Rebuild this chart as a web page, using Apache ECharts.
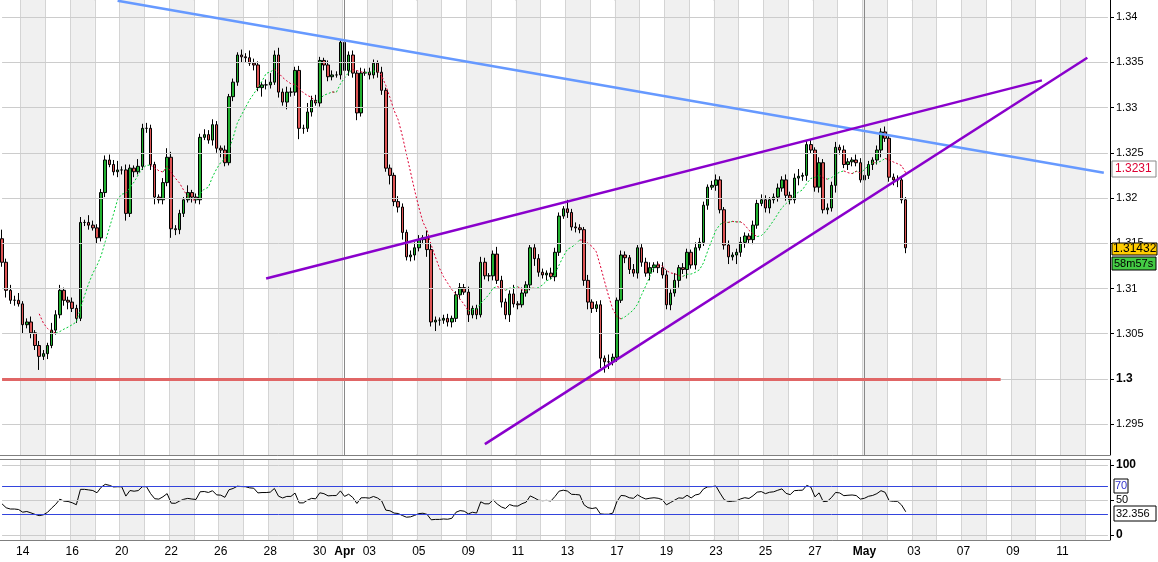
<!DOCTYPE html>
<html><head><meta charset="utf-8">
<script src="https://cdn.jsdelivr.net/npm/echarts@6/dist/echarts.min.js"></script>
<style>html,body{margin:0;padding:0;background:#fff}#c{width:1158px;height:562px}</style>
</head><body><div id="c"></div>
<script>
// trading days shown on the axis (6 four-hour bars each; 5 bars of Mar 13 before)
const days = ['14','15','16','19','20','21','22','23','26','27','28','29','30','Apr','03','04','05','06','09','10','11','12','13','16','17','18','19','20','23','24','25','26','27','30','May','02','03','04','07','08','09','10','11','14'];
const firstOpen = 1.3155;
const closes = [1.3129,1.3098,1.3087,1.3087,1.3083,1.3060,1.3063,1.3051,1.3037,1.3025,
1.3028,1.3037,1.3054,1.3071,1.3098,1.3087,1.3085,1.3078,1.3067,1.3173,
1.3173,1.3170,1.3167,1.3156,1.3206,1.3242,1.3237,1.3229,1.3231,1.3231,
1.3183,1.3233,1.3229,1.3235,1.3277,1.3277,1.3237,1.3201,1.3198,1.3217,
1.3245,1.3166,1.3165,1.3183,1.3198,1.3206,1.3201,1.3198,1.3267,1.3270,
1.3264,1.3281,1.3255,1.3253,1.3239,1.3312,1.3328,1.3358,1.3356,1.3355,
1.3349,1.3347,1.3322,1.3325,1.3325,1.3328,1.3358,1.3317,1.3306,1.3317,
1.3317,1.3341,1.3277,1.3277,1.3295,1.3308,1.3305,1.3352,1.3347,1.3334,
1.3336,1.3336,1.3372,1.3341,1.3358,1.3338,1.3294,1.3338,1.3339,1.3336,
1.3349,1.3339,1.3319,1.3233,1.3225,1.3196,1.3190,1.3162,1.3135,1.3137,
1.3145,1.3154,1.3156,1.3143,1.3063,1.3065,1.3065,1.3067,1.3063,1.3067,
1.3093,1.3101,1.3096,1.3071,1.3078,1.3071,1.3129,1.3114,1.3114,1.3138,
1.3109,1.3085,1.3071,1.3094,1.3083,1.3082,1.3095,1.3104,1.3145,1.3133,
1.3118,1.3115,1.3117,1.3113,1.3140,1.3180,1.3188,1.3184,1.3168,1.3167,
1.3165,1.3109,1.3085,1.3078,1.3082,1.3023,1.3019,1.3019,1.3024,1.3087,
1.3137,1.3134,1.3121,1.3117,1.3145,1.3129,1.3117,1.3123,1.3126,1.3123,
1.3115,1.3082,1.3095,1.3109,1.3123,1.3121,1.3140,1.3126,1.3145,1.3151,
1.3192,1.3212,1.3214,1.3220,1.3187,1.3148,1.3135,1.3137,1.3140,1.3151,
1.3158,1.3154,1.3170,1.3194,1.3198,1.3189,1.3198,1.3201,1.3211,1.3220,
1.3203,1.3198,1.3222,1.3224,1.3225,1.3259,1.3253,1.3212,1.3239,1.3187,
1.3189,1.3214,1.3256,1.3253,1.3237,1.3240,1.3242,1.3239,1.3220,1.3225,
1.3237,1.3242,1.3253,1.3273,1.3266,1.3223,1.3220,1.3220,1.3198,1.3145];
// upper / lower wick length in pips
const upWick = [10,4,6,5,8,3,4,6,3,5, 4,3,8,5,6,3,4,5,4,6, 3,8,5,4,4,5,6,5,10,4, 6,4,3,8,5,6,4,3,3,5,
10,6,4,4,3,8,3,4,4,6, 5,6,4,3,5,3,4,3,6,4, 8,5,4,3,6,10,5,8,4,6, 5,4,5,4,10,5,6,4,3,5,
5,4,3,5,4,5,3,6,4,5, 4,3,6,3,4,3,6,4,3,5, 6,5,3,8,6,4,3,4,5,3, 4,5,4,6,3,4,6,5,3,4,
8,5,4,4,10,3,6,4,3,4, 5,4,3,6,5,4,3,10,4,5, 4,3,6,3,4,5,3,8,4,3, 5,4,3,6,3,4,5,6,3,4,
6,5,4,8,3,5,4,3,6,5, 4,3,5,6,4,3,5,3,4,6, 4,3,5,4,6,5,3,4,5,4, 6,4,5,8,3,4,5,3,6,4,
5,4,6,3,5,4,3,6,5,3, 4,3,5,4,6,3,4,5,4,3];
const downWick = [5,8,4,6,3,10,4,6,5,15, 4,6,3,5,4,6,8,4,5,3, 4,5,3,6,4,5,3,4,6,5,
8,4,6,3,4,5,6,8,4,5, 4,10,6,5,4,3,6,4,5,3, 4,6,5,8,4,3,5,4,6,5, 3,6,4,10,5,4,3,6,4,8,
5,4,12,6,4,5,3,4,6,5, 4,3,5,4,6,5,8,4,3,5, 4,6,5,4,10,5,6,8,4,5, 6,4,5,8,5,10,6,4,5,6,
4,5,3,8,4,5,3,4,6,5, 4,6,5,8,4,5,3,4,6,8, 5,4,6,3,5,4,3,6,4,5, 4,6,8,5,4,11,12,8,4,5,
3,6,5,4,6,5,4,8,5,6, 4,5,6,4,8,5,10,4,5,3, 4,5,3,6,4,5,8,4,10,5, 6,4,5,4,3,5,6,4,5,4,
6,5,4,8,5,6,4,5,6,4, 5,4,8,5,4,6,5,4,3,5, 4,6,5,8,4,5,6,8,4,6];
// chart annotations: [bar index, price]
const blueLine = [[28,1.3418],[267.3,1.3228]];
const purpleUpper = [[64.4,1.3111],[251.5,1.3330]];
const purpleLower = [[117,1.2928],[263.2,1.3355]];
const supportLine = [[0,1.3000],[242,1.3000]];
const priceTicks = [1.295,1.3,1.305,1.31,1.315,1.32,1.325,1.33,1.335,1.34];
const rsiTicks = [0,50,100];
const rsiBands = [70,30];
const rsiGuides = [0,50,100];

const nCat = 5 + days.length*6;
const cats = []; for (let i=0;i<nCat;i++) cats.push('b'+i);
const dayIdx = i => (i>=5 && (i-5)%6===0) ? (i-5)/6 : -1;
const dayLabel = i => { const d=dayIdx(i); return d<0?'':days[d]; };
const showLabel = i => { const d=dayIdx(i); return d>=0 && (d%2===0 || days[d]==='Apr' || days[d]==='May'); };
const opens = [firstOpen].concat(closes.slice(0,-1));
const ohlc = closes.map((c,i)=>{const o=opens[i];const hi=Math.max(o,c)+(upWick[i]??4)/10000;const lo=Math.min(o,c)-(downWick[i]??4)/10000;return [o,c,+lo.toFixed(5),+hi.toFixed(5)];});
// moving average (10) split into rising / falling parts
const P=10, ma=closes.map((c,i)=>{if(i<P-1)return null;let s=0;for(let j=i-P+1;j<=i;j++)s+=closes[j];return s/P;});
const maUp=ma.map(()=>null), maDn=ma.map(()=>null);
for(let i=1;i<ma.length;i++){if(ma[i]==null||ma[i-1]==null)continue;const t=ma[i]>=ma[i-1]?maUp:maDn;t[i]=ma[i];t[i-1]=ma[i-1];}
// RSI(14), Wilder smoothing (seeded with a neutral prior)
const rsi=closes.map(()=>null);{const N=14;let g=0.0008,l=0.0008;const ch=closes.map((c,i)=>c-(i?closes[i-1]:firstOpen));
for(let i=0;i<ch.length;i++){const up=Math.max(ch[i],0),dn=Math.max(-ch[i],0);g=(g*(N-1)+up)/N;l=(l*(N-1)+dn)/N;rsi[i]=100-100/(1+g/(l||1e-9));}}

const dayTick = i => i>=5 && (i-5)%6===0;
const xBase = (gi, showLabels) => ({type:'category',gridIndex:gi,data:cats,boundaryGap:true,
  axisLine:{show:false},axisTick:{show:false,interval:(i)=>dayTick(i)},
  axisLabel:{show:showLabels,interval:(i)=>showLabel(i),color:'#000',fontSize:12,fontFamily:'Arial, Liberation Sans',margin:6,hideOverlap:false,
    formatter:(v,i)=>{const d=dayLabel(i);return (d==='Apr'||d==='May')?'{m|'+d+'}':d;},
    rich:{m:{fontWeight:'bold',fontSize:12,color:'#000'}}},
  splitLine:{show:true,interval:(i)=>dayTick(i),lineStyle:{color:'#d4d4d4',width:1}},
  splitArea:{show:true,interval:(i)=>dayTick(i),areaStyle:{color:['#ffffff','#f0f0f0']}}});

const segLine = (pts,color,w,xi,yi)=>({type:'line',xAxisIndex:xi||0,yAxisIndex:yi||0,data:[],silent:true,z:3,
  markLine:{symbol:'none',silent:true,label:{show:false},lineStyle:{color,width:w,type:'solid',opacity:1},
  data:[[{coord:[pts[0][0],pts[0][1]]},{coord:[pts[1][0],pts[1][1]]}]]}});
const hLine = (v,color,xi,yi,w)=>segLine([[0,v],[nCat-1,v]],color,w||1,xi,yi);
const monthLine = (idx)=>({type:'line',xAxisIndex:0,yAxisIndex:0,data:[],silent:true,
  markLine:{symbol:'none',silent:true,label:{show:false},lineStyle:{color:'#888',width:1,type:'solid'},data:[{xAxis:idx}]}});

const series = [];
priceTicks.forEach(v=>series.push(hLine(v,'#cccccc',0,0,1)));
rsiGuides.forEach(v=>series.push(hLine(v,'#cccccc',1,1,1)));
series.push(monthLine(5+13*6), monthLine(5+34*6));
series.push({type:'candlestick',xAxisIndex:0,yAxisIndex:0,data:ohlc,barWidth:3,
   itemStyle:{color:'#22b030',color0:'#dd5555',borderColor:'#000',borderColor0:'#000',borderWidth:1}});
series.push({type:'line',xAxisIndex:0,yAxisIndex:0,data:maUp,showSymbol:false,connectNulls:false,lineStyle:{color:'#00cc33',width:1,type:[2,2]}});
series.push({type:'line',xAxisIndex:0,yAxisIndex:0,data:maDn,showSymbol:false,connectNulls:false,lineStyle:{color:'#dd0033',width:1,type:[2,2]}});
series.push(segLine(supportLine,'#e06666',3));
series.push(segLine(blueLine,'#6699ff',2.5));
series.push(segLine(purpleUpper,'#8a00cc',2.5));
series.push(segLine(purpleLower,'#8a00cc',2.5));
rsiBands.forEach(v=>series.push(hLine(v,'#3344dd',1,1,1)));
series.push({type:'line',xAxisIndex:1,yAxisIndex:1,data:rsi,showSymbol:false,lineStyle:{color:'#000',width:1}});

const Z=100;
const option={animation:false,backgroundColor:'#fff',
 grid:[{left:0,top:0,width:1110,height:455,show:true,borderColor:'#000',borderWidth:1},
       {left:0,top:460,width:1110,height:80,show:true,borderColor:'#000',borderWidth:1}],
 xAxis:[xBase(0,false),xBase(1,true)],
 yAxis:[{type:'value',gridIndex:0,position:'right',min:1.2916,max:1.34188,scale:true,
   axisLine:{show:true,lineStyle:{color:'#000'}},axisTick:{show:true,customValues:priceTicks,length:4,lineStyle:{color:'#000'}},
   axisLabel:{customValues:priceTicks,color:'#000',fontSize:11,fontFamily:'Arial, Liberation Sans',margin:6,formatter:v=>{const s=String(+v.toFixed(3));return s==='1.3'?'{b|1.3}':s;},rich:{b:{fontWeight:'bold',fontSize:12,color:'#000'}}},
   splitLine:{show:false}},
  {type:'value',gridIndex:1,position:'right',min:-7.1,max:107.1,
   axisLine:{show:true,lineStyle:{color:'#000'}},axisTick:{show:true,customValues:rsiTicks,length:4,lineStyle:{color:'#000'}},
   axisLabel:{customValues:rsiTicks,color:'#000',fontSize:11,fontFamily:'Arial, Liberation Sans',margin:6,
     formatter:v=>v===50?'50':'{b|'+v+'}',rich:{b:{fontWeight:'bold',fontSize:12,color:'#000'}}},splitLine:{show:false}}],
 graphic:[
  {type:'rect',z:Z,shape:{x:1112,y:161,width:44,height:16},style:{fill:'#fff',stroke:'#888',lineWidth:1}},
  {type:'text',z:Z+1,x:1115,y:163,style:{text:'1.3231',fill:'#dd0033',font:'12px Arial, Liberation Sans'}},
  {type:'rect',z:Z,shape:{x:1112,y:243,width:45,height:12},style:{fill:'#ffcc00',stroke:'#000',lineWidth:1}},
  {type:'text',z:Z+1,x:1113,y:243,style:{text:'1.31432',fill:'#000',font:'12px Arial, Liberation Sans'}},
  {type:'rect',z:Z,shape:{x:1112,y:257,width:44,height:13},style:{fill:'#44cc44',stroke:'#000',lineWidth:1}},
  {type:'text',z:Z+1,x:1114,y:258,style:{text:'58m57s',fill:'#000',font:'11px Arial, Liberation Sans'}},
  {type:'rect',z:Z,shape:{x:1114,y:479,width:14,height:14},style:{fill:'#fff',stroke:'#000',lineWidth:1}},
  {type:'text',z:Z+1,x:1115,y:480,style:{text:'70',fill:'#3333cc',font:'11px Arial, Liberation Sans'}},
  {type:'rect',z:Z,shape:{x:1114,y:506,width:42,height:15},style:{fill:'#fff',stroke:'#000',lineWidth:1}},
  {type:'text',z:Z+1,x:1116,y:508,style:{text:'32.356',fill:'#000',font:'11px Arial, Liberation Sans'}}
 ],
 series};
echarts.init(document.getElementById('c')).setOption(option);
</script></body></html>
